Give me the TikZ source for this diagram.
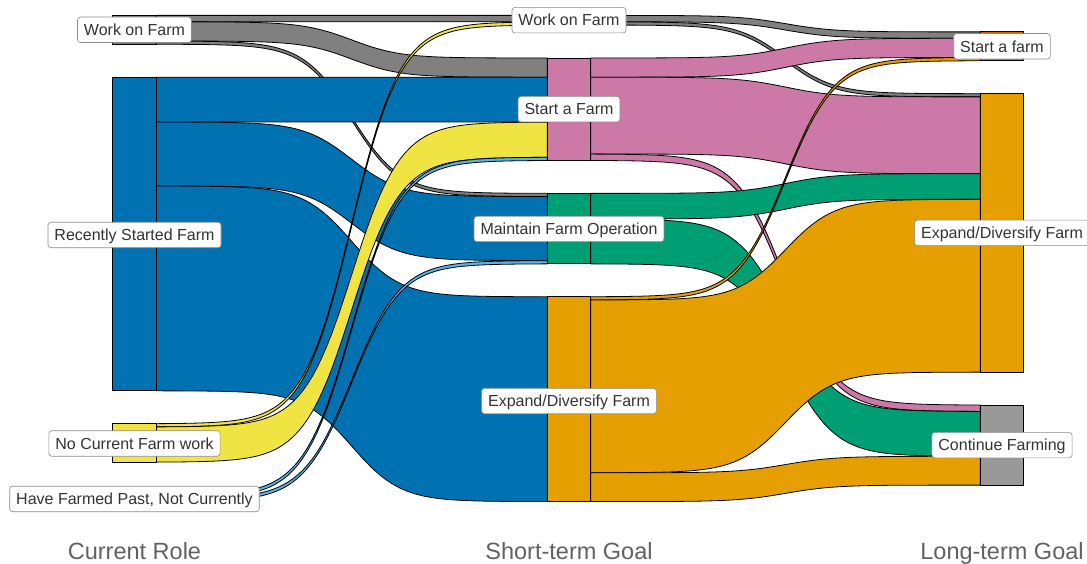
\documentclass[tikz,border=0pt]{standalone}
\usepackage{fontspec}
\setmainfont{Liberation Sans}

\definecolor{farmgray}{HTML}{808080}
\definecolor{recentblue}{HTML}{0072B2}
\definecolor{nowork}{HTML}{F0E442}
\definecolor{pastblue}{HTML}{56B4E9}
\definecolor{startpink}{HTML}{CC79A7}
\definecolor{maintgreen}{HTML}{009E73}
\definecolor{expandorange}{HTML}{E69F00}
\definecolor{newfarm}{HTML}{D55E00}
\definecolor{contgray}{HTML}{999999}

\tikzset{
  band/.style={draw=black, line width=0.8pt, line join=round},
  stratum/.style={draw=black, line width=0.8pt},
  tag/.style={draw=black!45, fill=white, rounded corners=3pt, line width=0.6pt,
    text=black!80, font=\fontsize{16}{19}\selectfont,
    text height=11.5pt, text depth=0pt, inner xsep=6.5pt, inner ysep=7pt},
  axistitle/.style={text=black!62, font=\fontsize{23.5}{28}\selectfont,
    anchor=base, inner sep=0pt}
}

% one alluvial band: colour, x from, x to, top/bottom at start, top/bottom at end
\newcommand\flow[7]{%
  \filldraw[band, fill=#1] (#2,#4)
    -- plot[domain=-8:8, samples=81] ({#2+(\x+8)/16*(#3-#2)},{#4+(#6-#4)/(1+exp(-\x))})
    -- (#3,#7)
    -- plot[domain=8:-8, samples=81] ({#2+(\x+8)/16*(#3-#2)},{#5+(#7-#5)/(1+exp(-\x))})
    -- cycle;}

\begin{document}
\begin{tikzpicture}[x=1pt, y=-1pt]
\useasboundingbox (0,0) rectangle (1087,564);

% current role -> short-term goal
\flow{farmgray}{156.25}{547.25}{15.4}{21.8}{15.4}{21.8}
\flow{farmgray}{156.25}{547.25}{21.8}{41.0}{58.0}{77.2}
\flow{farmgray}{156.25}{547.25}{41.0}{44.2}{193.4}{196.6}
\flow{recentblue}{156.25}{547.25}{77.2}{122.0}{77.2}{122.0}
\flow{recentblue}{156.25}{547.25}{122.0}{186.0}{196.6}{260.6}
\flow{recentblue}{156.25}{547.25}{186.0}{390.8}{296.8}{501.6}
\flow{nowork}{156.25}{547.25}{423.8}{427.0}{21.8}{25.0}
\flow{nowork}{156.25}{547.25}{427.0}{462.2}{122.0}{157.2}
\flow{pastblue}{156.25}{547.25}{495.2}{498.4}{157.2}{160.4}
\flow{pastblue}{156.25}{547.25}{498.4}{501.6}{260.6}{263.8}

% short-term goal -> long-term goal
\flow{farmgray}{590.75}{980.25}{15.4}{21.8}{31.9}{38.3}
\flow{farmgray}{590.75}{980.25}{21.8}{25.0}{93.7}{96.9}
\flow{startpink}{590.75}{980.25}{58.0}{77.2}{38.3}{57.5}
\flow{startpink}{590.75}{980.25}{77.2}{154.0}{96.9}{173.7}
\flow{startpink}{590.75}{980.25}{154.0}{160.4}{405.1}{411.5}
\flow{maintgreen}{590.75}{980.25}{193.4}{219.0}{173.7}{199.3}
\flow{maintgreen}{590.75}{980.25}{219.0}{263.8}{411.5}{456.3}
\flow{expandorange}{590.75}{980.25}{296.8}{300.0}{57.5}{60.7}
\flow{expandorange}{590.75}{980.25}{300.0}{472.8}{199.3}{372.1}
\flow{expandorange}{590.75}{980.25}{472.8}{501.6}{456.3}{485.1}

% strata
\filldraw[stratum, fill=farmgray] (112.75,15.4) rectangle (156.25,44.2);
\filldraw[stratum, fill=recentblue] (112.75,77.2) rectangle (156.25,390.8);
\filldraw[stratum, fill=nowork] (112.75,423.8) rectangle (156.25,462.2);
\filldraw[stratum, fill=pastblue] (112.75,495.2) rectangle (156.25,501.6);
\filldraw[stratum, fill=farmgray] (547.25,15.4) rectangle (590.75,25.0);
\filldraw[stratum, fill=startpink] (547.25,58.0) rectangle (590.75,160.4);
\filldraw[stratum, fill=maintgreen] (547.25,193.4) rectangle (590.75,263.8);
\filldraw[stratum, fill=expandorange] (547.25,296.8) rectangle (590.75,501.6);
\filldraw[stratum, fill=newfarm] (980.25,31.9) rectangle (1023.75,60.7);
\filldraw[stratum, fill=expandorange] (980.25,93.7) rectangle (1023.75,372.1);
\filldraw[stratum, fill=contgray] (980.25,405.1) rectangle (1023.75,485.1);

% stratum labels
\node[tag] (workA) at (134.5,29.8) {Work on Farm};
\node[tag] (recent) at (134.5,235.0) {Recently Started Farm};
\node[tag] (nowork) at (134.5,443.5) {No Current Farm work};
\node[tag] (past) at (134.5,499.0) {Have Farmed Past, Not Currently};
\node[tag] (workB) at (569,20.2) {Work on Farm};
\node[tag] (start) at (569,109.2) {Start a Farm};
\node[tag] (maint) at (569,229.0) {Maintain Farm Operation};
\node[tag] (expandB) at (569,401.0) {Expand/Diversify Farm};
\node[tag] (newfarm) at (1002,46.3) {Start a farm};
\node[tag] (expandC) at (1002,232.9) {Expand/Diversify Farm};
\node[tag] (cont) at (1002,445.1) {Continue Farming};

% axis titles
\node[axistitle] (roleaxis) at (134.5,559) {Current Role};
\node[axistitle] (shortaxis) at (569,559) {Short-term Goal};
\node[axistitle] (longaxis) at (1002,559) {Long-term Goal};
\end{tikzpicture}
\end{document}
